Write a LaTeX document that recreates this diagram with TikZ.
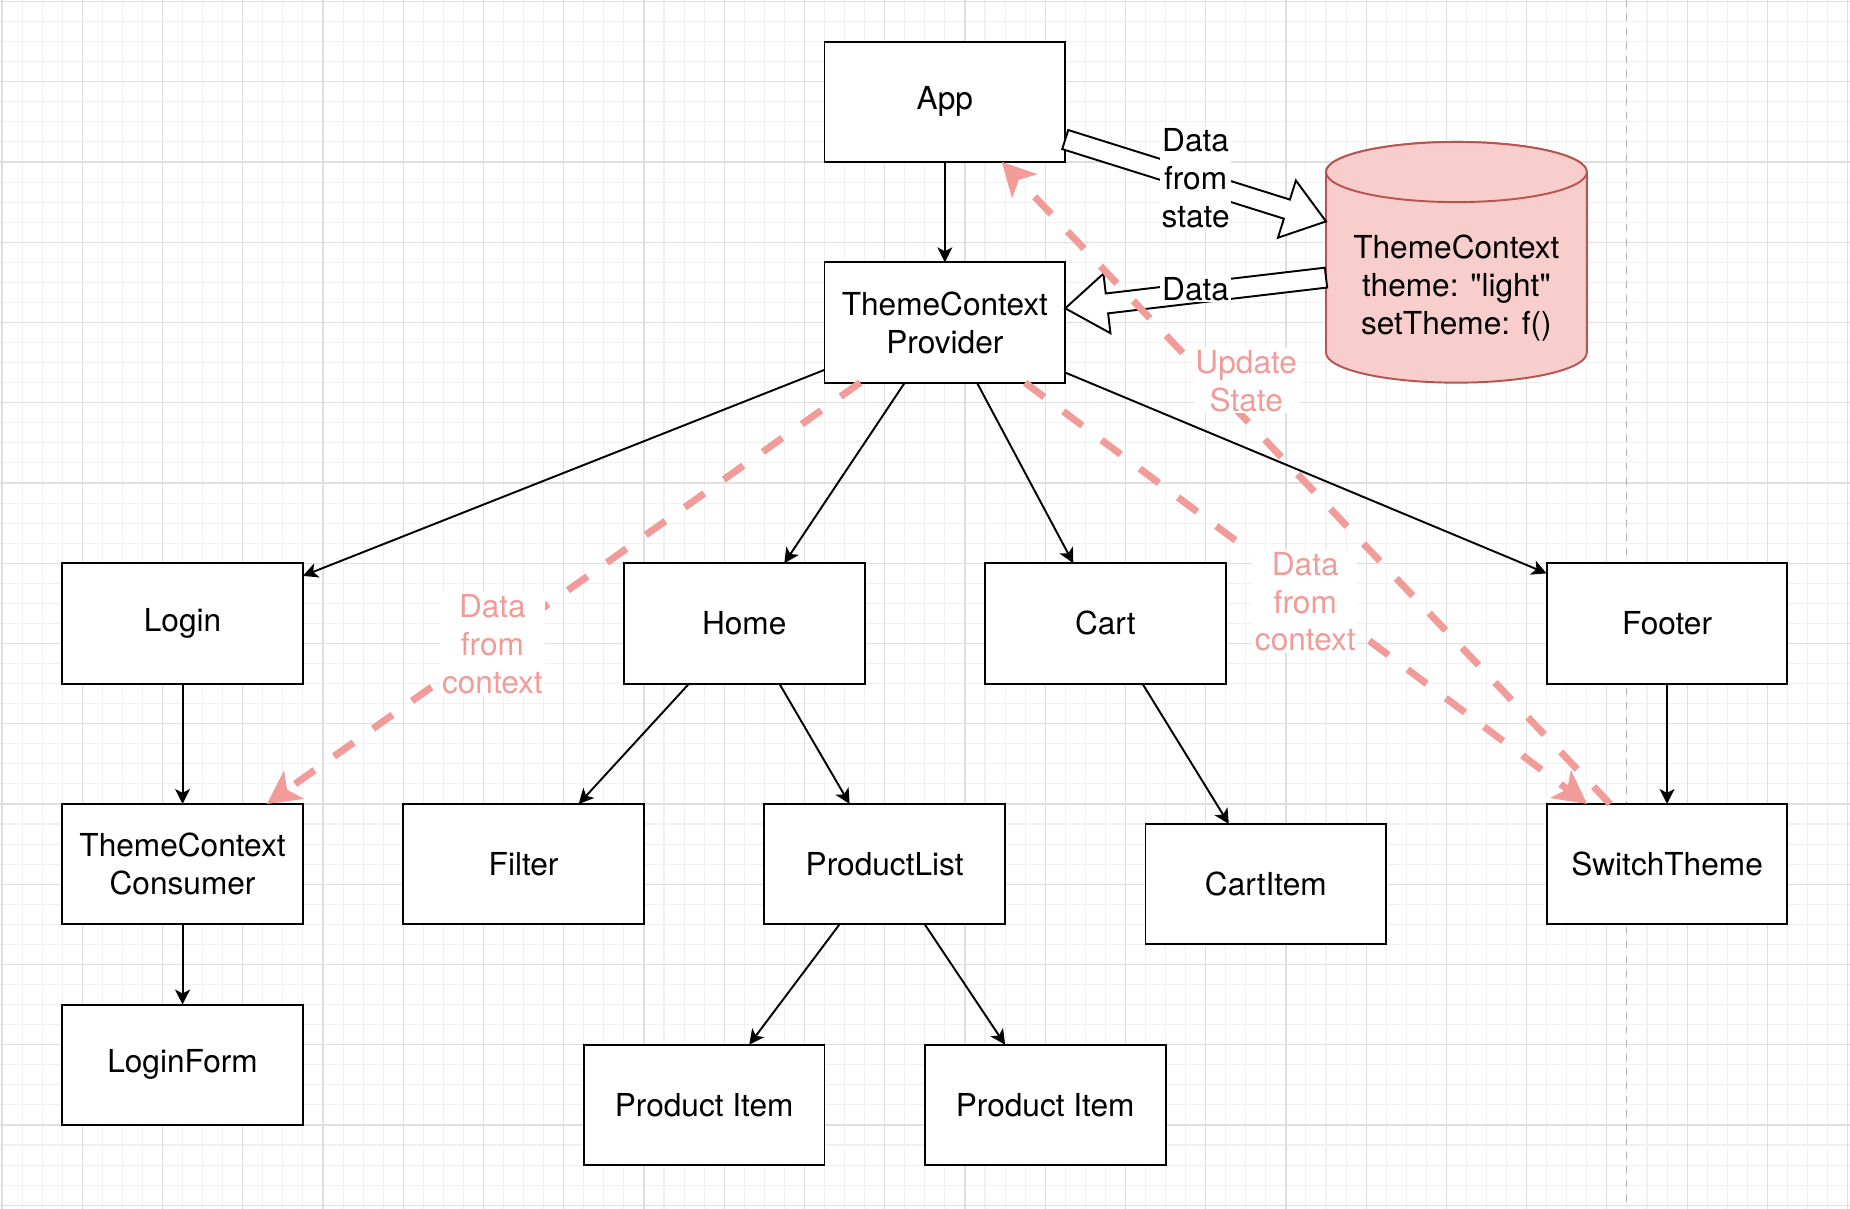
\documentclass[tikz,border=0pt]{standalone}
\usepackage{fontspec}
\setmainfont{TeX Gyre Heros}[Ligatures=TeXOff]
\usetikzlibrary{arrows.meta,calc}
\definecolor{pinkc}{HTML}{F19C99}
\definecolor{cylfill}{HTML}{F8CECC}
\definecolor{cylline}{HTML}{B85450}
\definecolor{gridminor}{HTML}{F1F1F1}
\definecolor{gridmajor}{HTML}{DFDFDF}
\definecolor{pagebrk}{HTML}{B0B0B0}
\begin{document}
\begin{tikzpicture}[x=0.4012cm, y=-0.4012cm,
  font=\fontsize{18}{21.6}\selectfont,
  box/.style={draw=black, line width=1.1pt, fill=white, minimum width=4.8144cm,
    minimum height=2.4072cm, inner sep=2pt, outer sep=0pt, align=center},
  edge/.style={line width=1.1pt, -{Stealth[length=8.5pt, width=8.5pt, inset=2.2pt]}},
  pinkline/.style={draw=pinkc, line width=4pt, dash pattern=on 13.6pt off 13.6pt,
    -{Stealth[length=19pt, width=20pt, inset=5pt, line width=0pt, fill=pinkc]}},
  pinklabel/.style={text=pinkc, fill=white, inner sep=1pt, align=center},
  flex/.style={draw=black, line width=1.1pt, fill=white, line join=miter},
  flexlabel/.style={fill=white, inner sep=1pt, align=center, text=black},
  gridmin/.style={draw=gridminor, line width=0.6pt},
  gridmaj/.style={draw=gridmajor, line width=0.7pt}
]
\useasboundingbox (-0.0997,-0.0748) rectangle (92.12,60.19);
\fill[white] (-0.0997,-0.0748) rectangle (92.12,60.19);
% grid
\foreach \i in {0,...,92} \draw[gridmin] (\i,-0.1) -- (\i,60.2);
\foreach \j in {0,...,60} \draw[gridmin] (-0.1,\j) -- (92.2,\j);
\foreach \i in {0,4,...,92} \draw[gridmaj] (\i,-0.1) -- (\i,60.2);
\foreach \j in {0,4,...,60} \draw[gridmaj] (-0.1,\j) -- (92.2,\j);
% page break line
\draw[pagebrk, line width=0.6pt, dash pattern=on 4pt off 4pt] (81,-0.1) -- (81,60.2);

% cylinder
\node[minimum width=5.2156cm, minimum height=4.8144cm, inner sep=0pt, outer sep=0pt] (cyl) at (72.5,13) {};
\draw[fill=cylfill, draw=cylline, line width=1.1pt]
  (66,8.5) -- (66,17.5) arc[start angle=180, end angle=0, x radius=6.5, y radius=1.5]
  -- (79,8.5) arc[start angle=0, end angle=-180, x radius=6.5, y radius=1.5] -- cycle;
\draw[fill=cylfill, draw=cylline, line width=1.1pt] (72.5,8.5) ellipse [x radius=6.5, y radius=1.5];
\node[align=center, inner sep=0pt] (cyltext) at (72.5,14.28) {ThemeContext\\theme: "light"\\setTheme: f()};

% boxes
\node[box] (app) at (47,5) {App};
\node[box] (prov) at (47,16) {ThemeContext\\Provider};
\node[box] (login) at (9,31) {Login};
\node[box] (home) at (37,31) {Home};
\node[box] (cart) at (55,31) {Cart};
\node[box] (footer) at (83,31) {Footer};
\node[box] (consumer) at (9,43) {ThemeContext\\Consumer};
\node[box] (filter) at (26,43) {Filter};
\node[box] (plist) at (44,43) {ProductList};
\node[box] (cartitem) at (63,44) {CartItem};
\node[box] (switch) at (83,43) {SwitchTheme};
\node[box] (loginform) at (9,53) {LoginForm};
\node[box] (pi1) at (35,55) {Product Item};
\node[box] (pi2) at (52,55) {Product Item};

% flex arrows
\path (app) -- (cyl) coordinate[pos=0] (f1s) coordinate[pos=1] (f1e);
\coordinate (f1h) at ($(f1e)!0.82cm!(f1s)$);
\draw[flex] ($(f1s)!0.2cm!90:(f1e)$) -- ($(f1h)!0.2cm!90:(f1e)$) -- ($(f1h)!0.6cm!90:(f1e)$)
  -- (f1e) -- ($(f1h)!0.6cm!-90:(f1e)$) -- ($(f1h)!0.2cm!-90:(f1e)$)
  -- ($(f1s)!0.2cm!-90:(f1e)$) -- cycle;
\node[flexlabel] (fl1) at ($(f1s)!0.5!(f1e)+(0,-0.1)$) {Data\\from\\state};

\path (cyl) -- (prov) coordinate[pos=0] (f2s) coordinate[pos=1] (f2e);
\coordinate (f2h) at ($(f2e)!0.84cm!(f2s)$);
\draw[flex] ($(f2s)!0.2cm!90:(f2e)$) -- ($(f2h)!0.2cm!90:(f2e)$) -- ($(f2h)!0.6cm!90:(f2e)$)
  -- (f2e) -- ($(f2h)!0.6cm!-90:(f2e)$) -- ($(f2h)!0.2cm!-90:(f2e)$)
  -- ($(f2s)!0.2cm!-90:(f2e)$) -- cycle;
\node[flexlabel] (fl2) at ($(f2s)!0.5!(f2e)+(0,-0.2)$) {Data};

% black edges
\draw[edge] (app) -- (prov);
\draw[edge] (prov) -- (login);
\draw[edge] (prov) -- (home);
\draw[edge] (prov) -- (cart);
\draw[edge] (prov) -- (footer);
\draw[edge] (login) -- (consumer);
\draw[edge] (consumer) -- (loginform);
\draw[edge] (home) -- (filter);
\draw[edge] (home) -- (plist);
\draw[edge] (cart) -- (cartitem);
\draw[edge] (footer) -- (switch);
\draw[edge] (plist) -- (pi1);
\draw[edge] (plist) -- (pi2);

% pink dashed edges
\draw[pinkline] (prov) -- node[pinklabel, pos=0.62] (lbl1) {Data\\from\\context} (consumer);
\draw[pinkline] (prov) -- node[pinklabel, pos=0.52, xshift=-0.24cm] (lbl2) {Data\\from\\context} (switch);
\draw[pinkline] (switch) -- node[pinklabel, pos=0.659, xshift=0.74cm] (lbl3) {Update\\State} (app);
\end{tikzpicture}
\end{document}
